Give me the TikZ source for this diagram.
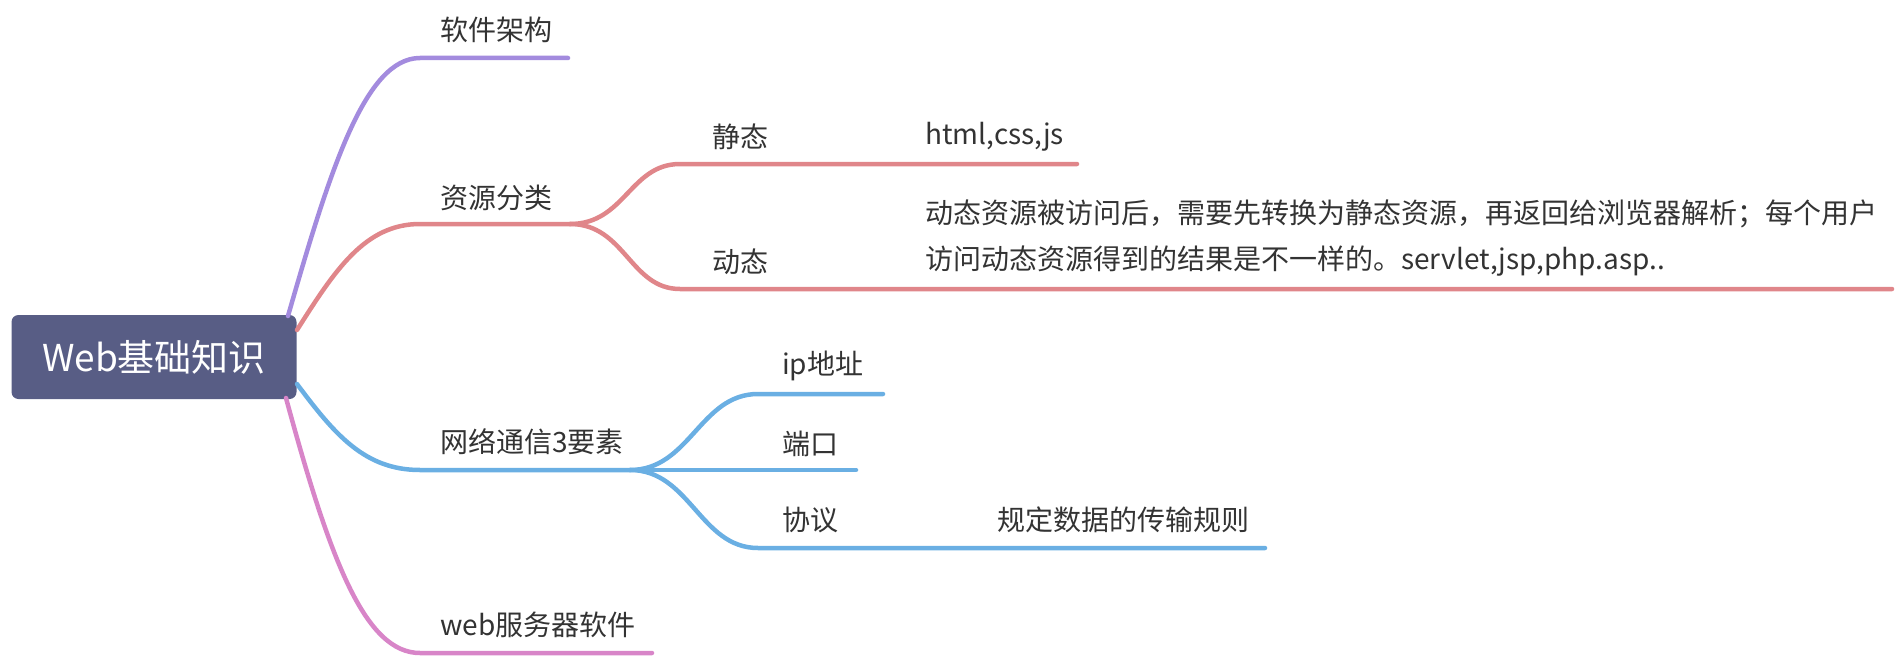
\documentclass[tikz,border=0pt]{standalone}
\usepackage{fontspec}
\newfontfamily\cjk{Noto Sans CJK SC}
\definecolor{rootfill}{HTML}{585D85}
\definecolor{cpurple}{HTML}{A38BDE}
\definecolor{cred}{HTML}{E0868A}
\definecolor{cblue}{HTML}{6AAFE3}
\definecolor{cpink}{HTML}{D885C8}
\definecolor{txt}{HTML}{333333}
\begin{document}
\begin{tikzpicture}[x=1pt,y=-1pt,
  lbl/.style={anchor=west,inner sep=0pt,text=txt,font=\cjk\fontsize{28}{46}\selectfont},
  branch/.style={line width=4.5pt,line cap=round}]
\useasboundingbox (0,0) rectangle (1902,658);
% root
\node[fill=rootfill,rounded corners=7pt,minimum width=285pt,minimum height=84pt,inner sep=0pt,
      text=white,font=\cjk\fontsize{37}{44}\selectfont] (root) at (154,357) {Web基础知识};
% coordinates
\coordinate (sP) at (288,316);
\coordinate (sR) at (297,330);
\coordinate (sB) at (297,384);
\coordinate (sK) at (286,398);
\coordinate (eP) at (420,58);   \coordinate (fP) at (568,58);
\coordinate (eR) at (420,224);  \coordinate (fR) at (570,224);
\coordinate (eB) at (420,470);  \coordinate (fB) at (630,470);
\coordinate (eK) at (420,653);  \coordinate (fK) at (652,653);
\coordinate (eS) at (680,164);  \coordinate (gS) at (1077,164);
\coordinate (eD) at (680,289);  \coordinate (gD) at (1892,289);
\coordinate (eI) at (758,394);  \coordinate (gI) at (883,394);
\coordinate (gPort) at (856,470);
\coordinate (eX) at (758,548);  \coordinate (gX) at (1265,548);
% main branches
\draw[branch,cpurple] (sP) .. controls (330,170) and (365,58) .. (eP) -- (fP);
\draw[branch,cred] (sR) .. controls (335,270) and (365,224) .. (eR) -- (fR);
\draw[branch,cblue] (sB) .. controls (335,435) and (365,470) .. (eB) -- (fB);
\draw[branch,cpink] (sK) .. controls (330,560) and (365,653) .. (eK) -- (fK);
% sub branches
\draw[branch,cred] (fR) .. controls (625,224) and (630,164) .. (eS) -- (gS);
\draw[branch,cred] (fR) .. controls (625,224) and (630,289) .. (eD) -- (gD);
\draw[branch,cblue] (fB) .. controls (690,470) and (700,394) .. (eI) -- (gI);
\draw[branch,cblue] (fB) -- (gPort);
\draw[branch,cblue] (fB) .. controls (690,470) and (700,548) .. (eX) -- (gX);
% labels
\node[lbl] (l1) at (440,30) {软件架构};
\node[lbl] (l2) at (440,198) {资源分类};
\node[lbl] (l21) at (712,137) {静态};
\node[lbl] (l211) at (925,137) {html,css,js};
\node[lbl] (l22) at (712,262) {动态};
\node[lbl,align=left,anchor=west] (l221) at (925,238) {动态资源被访问后，需要先转换为静态资源，再返回给浏览器解析；每个用户\\访问动态资源得到的结果是不一样的。servlet,jsp,php.asp..};
\node[lbl] (l3) at (440,442) {网络通信3要素};
\node[lbl] (l31) at (782,366) {ip地址};
\node[lbl] (l32) at (782,444) {端口};
\node[lbl] (l33) at (782,520) {协议};
\node[lbl] (l331) at (997,520) {规定数据的传输规则};
\node[lbl] (l4) at (440,625) {web服务器软件};
\end{tikzpicture}
\end{document}
